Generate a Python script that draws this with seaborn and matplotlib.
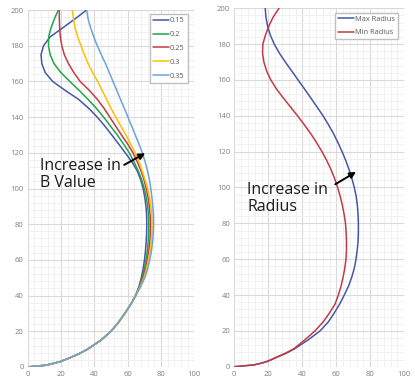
import numpy as np
import pandas as pd
import matplotlib
matplotlib.use("Agg")
import matplotlib.pyplot as plt
from matplotlib.ticker import MultipleLocator
import seaborn as sns

sns.set_theme(style="white")
plt.rcParams['font.family'] = ['Open Sans', 'DejaVu Sans']

# ---- left chart: profiles for different B values ----
# lower part (y 0..40) is shared by all curves
y_base = [0, 1, 2, 3, 5, 7.5, 10, 15, 20, 25, 30, 35, 40]
x_base = [0, 11, 15.5, 19.5, 25, 31, 36, 44, 50, 54.5, 58.3, 61.8, 64.8]
y_top = [45, 50, 55, 60, 65, 70, 75, 80, 85, 90, 95, 100, 105, 110, 115, 120, 125, 130,
         135, 140, 145, 150, 155, 160, 165, 170, 175, 180, 185, 190, 195, 200]
b_015 = [66.8, 68.2, 69.3, 70.1, 70.7, 71.1, 71.4, 71.5, 71.4, 71.0, 70.3, 69.3, 67.8, 65.7, 62.5,
         58.6, 54.6, 50.5, 46.3, 41.8, 36.6, 30.5, 22.5, 15.0, 10.5, 8.5, 8.0, 9.5, 13.5, 21.0,
         28.3, 35.3]
b_020 = [67.0, 68.8, 70.0, 71.0, 71.8, 72.3, 72.6, 72.7, 72.5, 72.0, 71.2, 70.0, 68.4, 66.3, 63.8,
         61.0, 57.5, 53.8, 49.7, 45.6, 41.2, 36.2, 30.9, 25.3, 19.9, 15.8, 13.5, 12.5, 12.6, 14.0,
         16.0, 18.4]
b_025 = [67.2, 69.3, 70.7, 71.8, 72.7, 73.3, 73.6, 73.7, 73.5, 73.0, 72.3, 71.2, 69.8, 68.0, 65.8,
         63.2, 60.0, 56.3, 52.8, 49.3, 45.8, 41.8, 37.0, 31.5, 27.7, 24.5, 22.0, 20.5, 19.6, 19.2,
         19.0, 19.0]
b_030 = [67.5, 69.8, 71.3, 72.5, 73.5, 74.2, 74.6, 74.7, 74.5, 74.0, 73.2, 72.0, 70.4, 68.7, 66.8,
         64.5, 61.8, 59.0, 55.9, 52.9, 50.0, 47.3, 44.7, 42.0, 39.0, 36.3, 34.0, 32.0, 30.0, 28.5,
         27.5, 26.8]
b_035 = [67.8, 70.3, 72.0, 73.3, 74.3, 75.0, 75.4, 75.6, 75.5, 75.1, 74.6, 73.9, 73.1, 71.9, 70.5,
         68.8, 66.8, 64.6, 62.4, 60.2, 58.0, 55.7, 53.5, 51.2, 49.0, 46.7, 44.2, 41.8, 39.7, 37.8,
         36.3, 35.4]
b_labels = ['0.15', '0.2', '0.25', '0.3', '0.35']
b_colors = ['#4657A8', '#22A44A', '#C23B45', '#FFC000', '#6BA3DA']

# ---- right chart: max / min radius ----
y_right = [0, 1, 2, 3, 5, 7.5, 10, 15, 20, 25, 30, 35, 40, 45, 50, 55, 60, 65, 70, 75, 80, 85,
           90, 95, 100, 105, 110, 115, 120, 125, 130, 135, 140, 145, 150, 155, 160, 165, 170,
           175, 180, 185, 190, 195, 200]
r_max = [0, 11.5, 16, 19.5, 24.5, 30.5, 35.5, 43.5, 50.5, 55.3, 58.8, 62.0, 64.7, 67.2, 69.1,
         70.6, 71.6, 72.3, 72.8, 73.0, 73.0, 72.8, 72.4, 71.7, 70.6, 69.2, 67.5, 65.6, 63.4, 61.0,
         58.4, 55.4, 52.2, 48.6, 45.0, 41.3, 37.5, 33.8, 30.0, 26.5, 23.5, 21.2, 19.6, 18.6, 18.2]
r_min = [0, 11.5, 16, 19.5, 24, 30, 35, 41.5, 47.5, 52.3, 56.0, 59.3, 61.2, 62.8, 64.0, 65.0,
         65.7, 66.0, 66.0, 65.8, 65.4, 64.6, 63.6, 62.3, 60.8, 59.0, 56.9, 54.4, 51.6, 48.4, 45.0,
         41.2, 37.2, 33.0, 28.8, 24.8, 21.5, 19.0, 17.4, 16.6, 16.8, 18.3, 20.3, 22.8, 26.3]
r_labels = ['Max Radius', 'Min Radius']
r_colors = ['#4657A8', '#C23B45']

df_b = pd.concat([pd.DataFrame({'x': x_base + xs, 'y': y_base + y_top, 'B': lab})
                  for xs, lab in zip([b_015, b_020, b_025, b_030, b_035], b_labels)])
df_r = pd.concat([pd.DataFrame({'x': xs, 'y': y_right, 'serie': lab})
                  for xs, lab in zip([r_max, r_min], r_labels)])

fig = plt.figure(figsize=(4.15, 3.85), dpi=100)
ax1 = fig.add_axes([0.0667, 0.0468, 0.4014, 0.927])
ax2 = fig.add_axes([0.5646, 0.0475, 0.4096, 0.931])


def excel_style(ax):
    ax.set_xlim(0, 100)
    ax.set_ylim(0, 200)
    ax.xaxis.set_major_locator(MultipleLocator(20))
    ax.yaxis.set_major_locator(MultipleLocator(20))
    ax.xaxis.set_minor_locator(MultipleLocator(4))
    ax.yaxis.set_minor_locator(MultipleLocator(4))
    ax.grid(which='major', color='#d9d9d9', linewidth=0.8)
    ax.grid(which='minor', color='#efefef', linewidth=0.6)
    ax.set_axisbelow(True)
    for s in ax.spines.values():
        s.set_visible(False)
    ax.tick_params(which='both', length=0, labelsize=5.5, labelcolor='#7f7f7f', pad=3)
    ax.set_xlabel('')
    ax.set_ylabel('')


leg_kw = dict(loc='upper right', fontsize=5.3, frameon=True, fancybox=False,
              edgecolor='#bfbfbf', framealpha=1, handlelength=2.2, handletextpad=0.1,
              borderpad=0.45, borderaxespad=0, labelcolor='#595959')

sns.lineplot(data=df_b, x='x', y='y', hue='B', palette=b_colors, sort=False,
             estimator=None, linewidth=1.1, ax=ax1)
excel_style(ax1)
h, l = ax1.get_legend_handles_labels()
ax1.legend(h, l, labelspacing=0.9, bbox_to_anchor=(0.962, 0.989), **leg_kw)
ax1.annotate('', xy=(72, 120.5), xytext=(56.5, 112.5),
             arrowprops=dict(arrowstyle='-|>', color='black', lw=1.4, mutation_scale=9))
ax1.text(7.5, 108, 'Increase in\nB Value', fontsize=11.5, va='center', ha='left',
         color='#1a1a1a', linespacing=1.1)

sns.lineplot(data=df_r, x='x', y='y', hue='serie', palette=r_colors, sort=False,
             estimator=None, linewidth=1.1, ax=ax2)
excel_style(ax2)
h, l = ax2.get_legend_handles_labels()
ax2.legend(h, l, labelspacing=0.8, bbox_to_anchor=(0.965, 0.988), **leg_kw)
ax2.annotate('', xy=(73, 109.5), xytext=(58, 101),
             arrowprops=dict(arrowstyle='-|>', color='black', lw=1.4, mutation_scale=9))
ax2.text(7.5, 94, 'Increase in\nRadius', fontsize=11.5, va='center', ha='left',
         color='#1a1a1a', linespacing=1.1)

fig.savefig('out.png', dpi=100)
